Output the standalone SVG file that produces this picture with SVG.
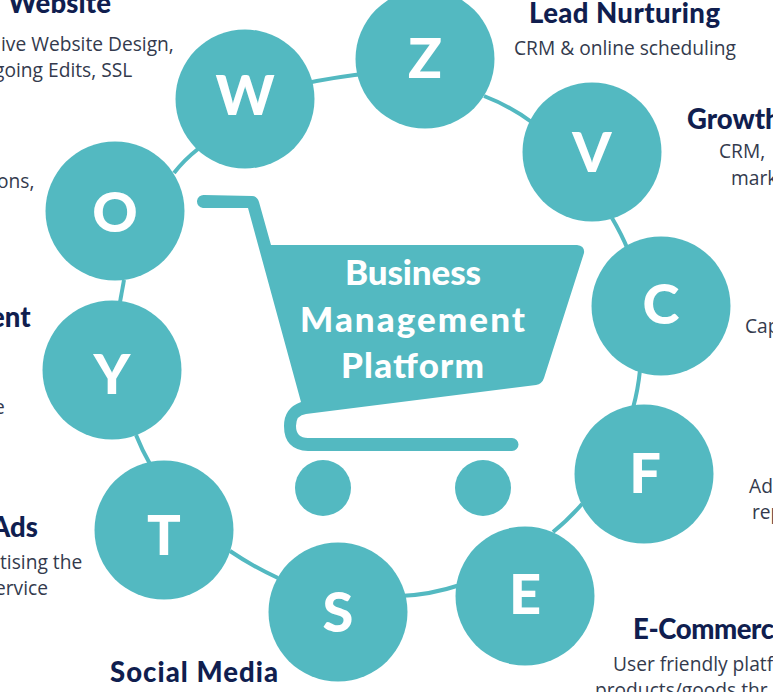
<svg xmlns="http://www.w3.org/2000/svg" width="773" height="692" viewBox="0 0 773 692">
<style>
.n{fill:#53b9c1}
.l{font:900 56px Lato,"Liberation Sans",sans-serif;fill:#fff;text-anchor:middle}
.h{font:900 27.500px Lato,"Liberation Sans",sans-serif;fill:#101e4f}
.b{font:400 19.200px "Open Sans","Liberation Sans",sans-serif;fill:#333a4d}
.c{font:900 35px Lato,"Liberation Sans",sans-serif;fill:#fff}
.k{fill:none;stroke:#53b9c1;stroke-width:4}
</style>
<rect width="773" height="692" fill="#fff"/>
<g id="connectors">
<path class="k" d="M245 99Q330 72 425 70"/>
<path class="k" d="M484 96Q510 106 533 123"/>
<path class="k" d="M612 218Q622 235 628 250"/>
<path class="k" d="M640 370Q638 390 633 408"/>
<path class="k" d="M582 504Q568 520 553 532"/>
<path class="k" d="M460 585Q430 595 400 596"/>
<path class="k" d="M230 551Q252 566 278 578"/>
<path class="k" d="M136 435Q142 450 150 464"/>
<path class="k" d="M124 280L120 302"/>
<path class="k" d="M174 173Q184 160 198 149"/>
</g>
<g id="cart">
<path class="n" d="M204 195L252 196Q257 196 259 202L271 245L577 245Q585 246 584 253L544 378Q542 384 536 385L306 414Q296 415 296 426Q296 438 308 438L512 438A6.500 6.500 0 0 1 512 451L308 451Q284 450 284 426Q284 408 301 402L248 208L203 208A6.500 6.500 0 0 1 204 195Z"/>
<circle class="n" cx="323" cy="488" r="28"/>
<circle class="n" cx="483" cy="488" r="28"/>
<text class="c" x="345" y="285" textLength="136">Business</text>
<text class="c" x="300" y="332" textLength="225">Management</text>
<text class="c" x="341" y="378" textLength="143">Platform</text>
</g>
<g id="node-w"><circle class="n" cx="245" cy="99" r="69.500"/><text class="l" x="245" y="115">W</text></g>
<g id="node-z"><circle class="n" cx="425" cy="59" r="69.500"/><text class="l" x="425" y="78">Z</text></g>
<g id="node-v"><circle class="n" cx="592" cy="152" r="69.500"/><text class="l" x="592" y="172">V</text></g>
<g id="node-c"><circle class="n" cx="661" cy="306" r="69.500"/><text class="l" x="661" y="324">C</text></g>
<g id="node-f"><circle class="n" cx="644" cy="474" r="69.500"/><text class="l" x="645" y="493">F</text></g>
<g id="node-e"><circle class="n" cx="525" cy="596" r="69.500"/><text class="l" x="525" y="614">E</text></g>
<g id="node-s"><circle class="n" cx="338" cy="612" r="69.500"/><text class="l" x="338" y="632">S</text></g>
<g id="node-t"><circle class="n" cx="164" cy="530" r="69.500"/><text class="l" x="164" y="555">T</text></g>
<g id="node-y"><circle class="n" cx="112" cy="370" r="69.500"/><text class="l" x="112" y="394">Y</text></g>
<g id="node-o"><circle class="n" cx="115" cy="211" r="69.500"/><text class="l" x="115" y="232">O</text></g>
<g id="labels">
<text class="h" x="8" y="13" textLength="103">Website</text>
<text class="b" x="1" y="51">ive Website Design,</text>
<text class="b" x="-6" y="77">going Edits, SSL</text>
<text class="b" x="-3" y="188">ons,</text>
<text class="h" x="-10" y="327">ent</text>
<text class="b" x="-6" y="414">e</text>
<text class="h" x="-9" y="537">Ads</text>
<text class="b" x="0" y="569">tising the</text>
<text class="b" x="-5" y="595">ervice</text>
<text class="h" x="110" y="682" textLength="168">Social Media</text>
<text class="h" x="529" y="23" textLength="191">Lead Nurturing</text>
<text class="b" x="514" y="55">CRM &amp; online scheduling</text>
<text class="h" x="687" y="129">Growth</text>
<text class="b" x="719" y="158">CRM,</text>
<text class="b" x="731" y="185">mark</text>
<text class="b" x="745" y="333">Cap</text>
<text class="b" x="749" y="493">Ad</text>
<text class="b" x="752" y="519">rep</text>
<text class="h" x="633" y="639" textLength="141">E-Commerc</text>
<text class="b" x="613" y="671">User friendly platf</text>
<text class="b" x="595" y="697">products/goods thr</text>
</g>
</svg>
